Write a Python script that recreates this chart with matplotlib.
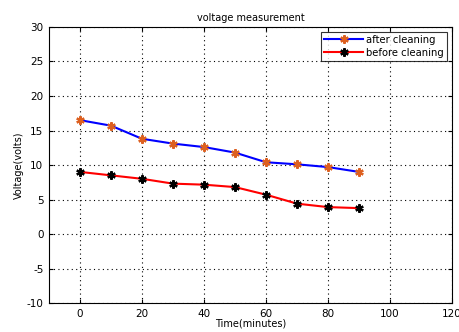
import numpy as np
import matplotlib
matplotlib.use('Agg')
import matplotlib.pyplot as plt
from matplotlib.ticker import MultipleLocator

plt.rcParams['axes.unicode_minus'] = False

# data
time_min = [0, 10, 20, 30, 40, 50, 60, 70, 80, 90]
after_cleaning = [16.5, 15.7, 13.8, 13.1, 12.6, 11.8, 10.4, 10.1, 9.7, 9.0]
before_cleaning = [9.0, 8.5, 8.0, 7.3, 7.15, 6.8, 5.7, 4.4, 3.9, 3.75]

fig = plt.figure(figsize=(4.6, 3.32), dpi=100)
ax = fig.add_axes([0.1065, 0.0873, 0.876, 0.8314])

star = (6, 2, 0)
ax.plot(time_min, after_cleaning, color='#0000ff', linewidth=1.5, marker=star,
        markersize=6, markeredgewidth=1.6, markeredgecolor='#dd6020',
        markerfacecolor='#dd6020', label='after cleaning')
ax.plot(time_min, before_cleaning, color='#ff0000', linewidth=1.5, marker=star,
        markersize=6, markeredgewidth=1.6, markeredgecolor='black',
        markerfacecolor='black', label='before cleaning')

ax.set_xlim(-10, 120)
ax.set_ylim(-10, 30)
ax.xaxis.set_major_locator(MultipleLocator(20))
ax.yaxis.set_major_locator(MultipleLocator(5))
ax.grid(True, linestyle=(0, (1, 3)), color='black', linewidth=0.8)
ax.tick_params(axis='both', direction='in', labelsize=7.5, length=3,
               top=True, right=True, pad=4)

ax.set_title('voltage measurement', fontsize=7, pad=4)
ax.set_xlabel('Time(minutes)', fontsize=7, labelpad=0)
ax.set_ylabel('Voltage(volts)', fontsize=7, labelpad=2)

leg = ax.legend(loc='upper right', fontsize=7.2, frameon=True, fancybox=False,
                borderaxespad=0.5, handlelength=3.9, borderpad=0.3,
                labelspacing=0.3, handletextpad=0.3)
leg.get_frame().set_edgecolor('black')
leg.get_frame().set_linewidth(0.8)

for s in ax.spines.values():
    s.set_linewidth(0.8)

fig.savefig('out.png', dpi=100)
